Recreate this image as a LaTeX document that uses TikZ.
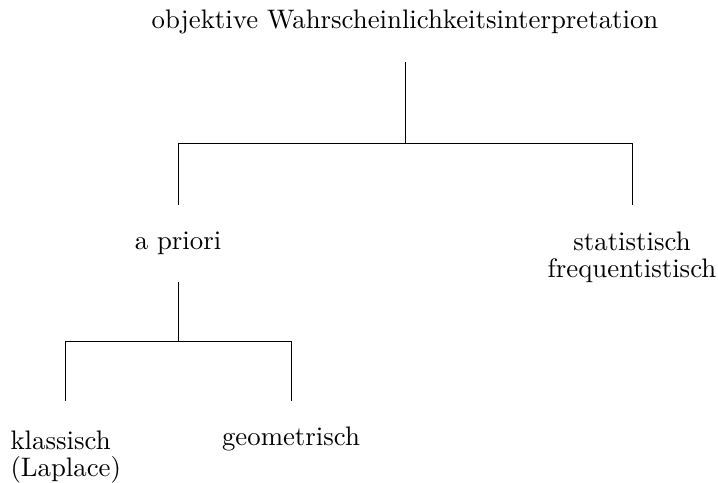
\documentclass[tikz,border=0pt]{standalone}
\begin{document}
\begin{tikzpicture}[x=0.3733pt,y=-0.3733pt,
  lbl/.style={inner sep=0pt,font=\fontsize{10}{10.1}\selectfont},
  edge/.style={draw=black,line width=0.3pt}]
\useasboundingbox (0,0) rectangle (718,482);
\node[lbl] (root) at (405,22) {objektive Wahrscheinlichkeitsinterpretation};
\node[lbl] (apriori) at (178,243) {a priori};
\node[lbl,align=center] (stat) at (632,257) {statistisch\\frequentistisch};
\node[lbl,align=left,anchor=north west] (klass) at (10,430) {klassisch\\(Laplace)};
\node[lbl] (geo) at (291,439) {geometrisch};
\coordinate (r0) at (405,62);
\coordinate (r1) at (405,143);
\coordinate (a0) at (178,205);
\coordinate (s0) at (632,205);
\coordinate (a1) at (178,282);
\coordinate (a2) at (178,341);
\coordinate (k0) at (65,401);
\coordinate (g0) at (291,401);
\draw[edge] (r0) -- (r1);
\draw[edge] (a0) -- (a0 |- r1) -- (s0 |- r1) -- (s0);
\draw[edge] (a1) -- (a2);
\draw[edge] (k0) -- (k0 |- a2) -- (g0 |- a2) -- (g0);
\end{tikzpicture}
\end{document}
